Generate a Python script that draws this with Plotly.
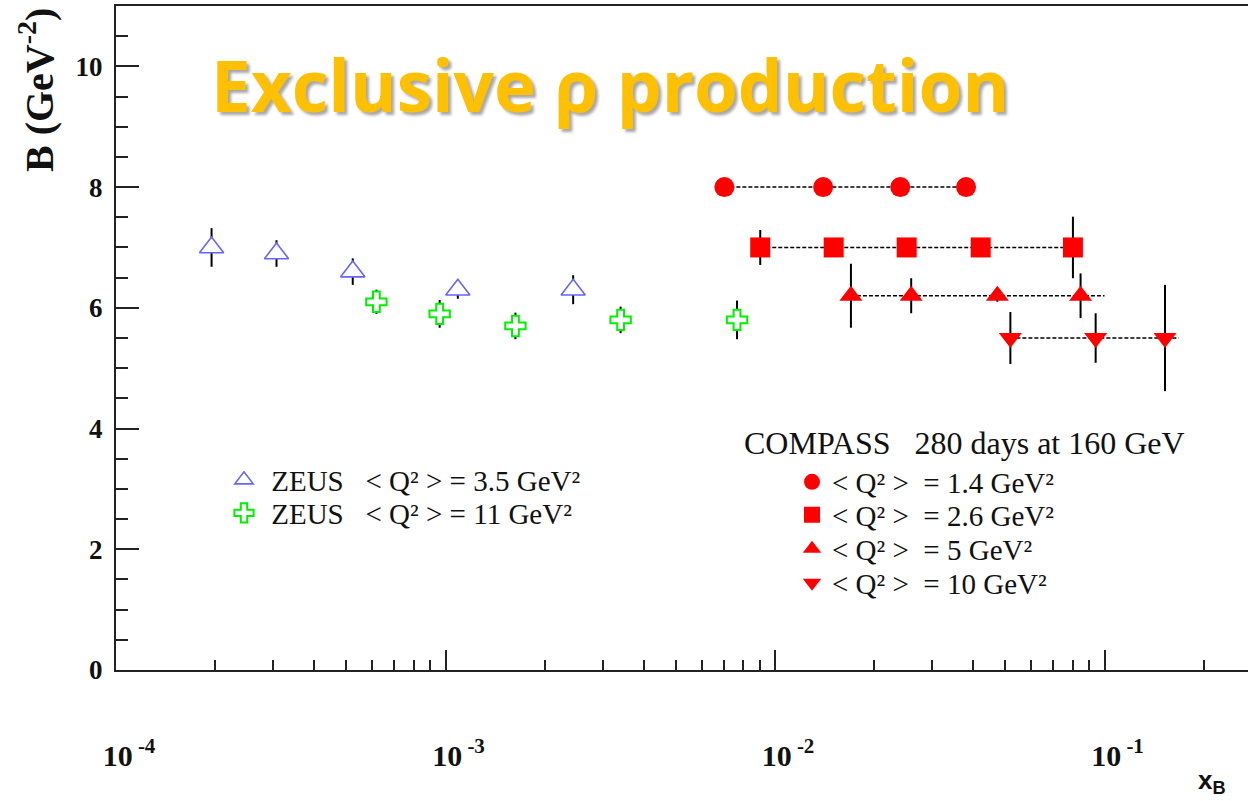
import plotly.graph_objects as go

# ---------------- data ----------------
# ZEUS, <Q^2> = 3.5 GeV^2
zeus35_x = [1.95e-4, 3.07e-4, 5.23e-4, 1.09e-3, 2.44e-3]
zeus35_b = [7.0, 6.9, 6.6, 6.3, 6.3]
zeus35_err = [0.32, 0.22, 0.22, 0.15, 0.24]

# ZEUS, <Q^2> = 11 GeV^2
zeus11_x = [6.17e-4, 9.6e-4, 1.63e-3, 3.40e-3, 7.67e-3]
zeus11_b = [6.1, 5.9, 5.7, 5.8, 5.8]
zeus11_err = [0.20, 0.23, 0.22, 0.22, 0.32]

# COMPASS projections, 280 days at 160 GeV
c14_x = [0.00702, 0.0140, 0.0240, 0.0380]
c14_b = [8.0, 8.0, 8.0, 8.0]
c14_err = [0.08, 0.08, 0.08, 0.08]
c14_span = [0.00702, 0.0380]

c26_x = [0.00902, 0.01507, 0.0251, 0.0421, 0.0802]
c26_b = [7.0, 7.0, 7.0, 7.0, 7.0]
c26_err = [0.29, 0.10, 0.10, 0.10, 0.51]
c26_span = [0.00902, 0.0802]

c5_x = [0.0170, 0.0259, 0.0473, 0.0846]
c5_b = [6.2, 6.2, 6.2, 6.2]
c5_err = [0.53, 0.29, 0.10, 0.37]
c5_span = [0.0170, 0.100]

c10_x = [0.0518, 0.0940, 0.1526]
c10_b = [5.5, 5.5, 5.5]
c10_err = [0.43, 0.41, 0.88]
c10_span = [0.0518, 0.168]

NB = "\u00a0"
zeus_labels = [
    NB + "ZEUS" + NB * 3 + "&lt; Q\u00b2 &gt;" + NB + "= 3.5 GeV\u00b2",
    NB + "ZEUS" + NB * 3 + "&lt; Q\u00b2 &gt;" + NB + "= 11 GeV\u00b2",
]
compass_labels = [
    "&lt; Q\u00b2 &gt;" + NB * 2 + "= 1.4 GeV\u00b2",
    "&lt; Q\u00b2 &gt;" + NB * 2 + "= 2.6 GeV\u00b2",
    "&lt; Q\u00b2 &gt;" + NB * 2 + "= 5 GeV\u00b2",
    "&lt; Q\u00b2 &gt;" + NB * 2 + "= 10 GeV\u00b2",
]
compass_header = "COMPASS" + NB * 3 + "280 days at 160 GeV"
x_tickvals = [1e-4, 1e-3, 1e-2, 1e-1]
x_ticktext = ["10<sup>" + NB + "-4</sup>", "10<sup>" + NB + "-3</sup>",
              "10<sup>" + NB + "-2</sup>", "10<sup>" + NB + "-1</sup>"]

# ---------------- styles ----------------
RED = "#ff0000"
BLUE = "#6464ff"
GREEN = "#00f000"
AXIS = "#222222"
TXT = "#111111"
SERIF = "Liberation Serif"

W, H = 1248, 801
L, R, T, B = 116, 0, 6, 131
pw, ph = W - L - R, H - T - B


def px(xp):
    return (xp - L) / pw


def py(yp):
    return (H - B - yp) / ph


err_style = dict(type="data", visible=True, color="black", thickness=2, width=0)

fig = go.Figure()

# dotted bin lines behind the COMPASS points
for span, b in [(c14_span, c14_b[0]), (c26_span, c26_b[0]),
                (c5_span, c5_b[0]), (c10_span, c10_b[0])]:
    fig.add_trace(go.Scatter(
        x=span, y=[b, b], mode="lines", showlegend=False, hoverinfo="skip",
        line=dict(color="black", width=1.5, dash="4px,2px"),
    ))

# ZEUS points: open symbols with white fill so the error bar stops at the outline
fig.add_trace(go.Scatter(
    x=zeus35_x, y=zeus35_b, mode="markers", name=zeus_labels[0],
    error_y=dict(array=zeus35_err, **err_style),
    marker=dict(symbol="triangle-up", size=21, color="white",
                line=dict(color=BLUE, width=1.6)),
    legend="legend",
))
fig.add_trace(go.Scatter(
    x=zeus11_x, y=zeus11_b, mode="markers", name=zeus_labels[1],
    error_y=dict(array=zeus11_err, **err_style),
    marker=dict(symbol="cross", size=17, color="white",
                line=dict(color=GREEN, width=2)),
    legend="legend2",
))

compass = [
    (c14_x, c14_b, c14_err, "circle", 20, compass_labels[0], "legend3"),
    (c26_x, c26_b, c26_err, "square", 20, compass_labels[1], "legend4"),
    (c5_x, c5_b, c5_err, "triangle-up", 20, compass_labels[2], "legend5"),
    (c10_x, c10_b, c10_err, "triangle-down", 20, compass_labels[3], "legend6"),
]
for xs, bs, es, sym, sz, lab, lg in compass:
    fig.add_trace(go.Scatter(
        x=xs, y=bs, mode="markers", name=lab,
        error_y=dict(array=es, **err_style),
        marker=dict(symbol=sym, size=sz, color=RED, line=dict(width=0)),
        legend=lg,
    ))


def legend_at(xp, yp, size):
    return dict(x=px(xp), y=py(yp), xanchor="left", yanchor="middle",
                bgcolor="rgba(0,0,0,0)", borderwidth=0, itemwidth=30,
                font=dict(family=SERIF, size=size, color=TXT))


minor_x = [m * 10.0 ** e for e in range(-4, 0) for m in range(2, 10)] + [0.2]

fig.update_layout(
    width=W, height=H,
    margin=dict(l=L, r=R, t=T, b=B, pad=0),
    plot_bgcolor="white", paper_bgcolor="white",
    showlegend=True,
    xaxis=dict(
        type="log", range=[-4.0, -0.5645],
        showgrid=False, zeroline=False,
        showline=True, linecolor=AXIS, linewidth=2, mirror=True,
        ticks="inside", ticklen=20, tickwidth=2, tickcolor=AXIS,
        tickmode="array", tickvals=x_tickvals, ticktext=x_ticktext,
        tickfont=dict(family=SERIF, size=30, color=TXT, weight="bold"),
        ticklabelstandoff=58, ticklabelshift=13,
        minor=dict(tickmode="array", tickvals=minor_x, ticks="inside",
                   ticklen=10, tickwidth=2, tickcolor=AXIS, showgrid=False),
    ),
    yaxis=dict(
        range=[0, 11.0], tick0=0, dtick=2,
        showgrid=False, zeroline=False,
        showline=True, linecolor=AXIS, linewidth=2, mirror=False,
        ticks="inside", ticklen=23, tickwidth=2, tickcolor=AXIS,
        tickfont=dict(family=SERIF, size=27, color=TXT, weight="bold"),
        ticklabelstandoff=6,
        minor=dict(dtick=0.5, ticks="inside", ticklen=12, tickwidth=2,
                   tickcolor=AXIS, showgrid=False),
    ),
    legend=legend_at(224, 480, 29),
    legend2=legend_at(224, 513, 29),
    legend3=legend_at(792, 482, 29),
    legend4=legend_at(792, 515, 29),
    legend5=legend_at(792, 549, 29),
    legend6=legend_at(792, 583, 29),
    annotations=[
        dict(text="Exclusive \u03c1 production", xref="paper", yref="paper",
             x=px(209), y=py(84), xanchor="left", yanchor="middle",
             showarrow=False,
             font=dict(family="Open Sans", size=71, color="#ffc000", weight="bold",
                       shadow="3px 3px 3px rgba(0,0,0,0.35)")),
        dict(text="B (GeV<sup>-2</sup>)", xref="paper", yref="paper",
             x=px(36), y=py(90), xanchor="center", yanchor="middle",
             textangle=-90, showarrow=False,
             font=dict(family=SERIF, size=40, color=TXT, weight="bold")),
        dict(text="x<sub>B</sub>", xref="paper", yref="paper",
             x=px(1212), y=py(782), xanchor="center", yanchor="middle",
             showarrow=False,
             font=dict(family="Liberation Sans", size=26, color=TXT,
                       weight="bold")),
        dict(text=compass_header, xref="paper", yref="paper",
             x=px(742), y=py(443), xanchor="left", yanchor="middle",
             showarrow=False,
             font=dict(family=SERIF, size=32, color=TXT)),
    ],
)

fig.write_html("out.html")
